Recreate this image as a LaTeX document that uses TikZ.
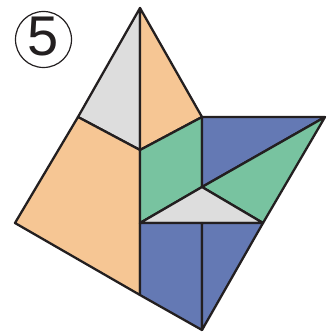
\documentclass[tikz,border=0pt]{standalone}
\usepackage{fontspec}
\setmainfont{Liberation Sans}
\definecolor{orng}{RGB}{246,198,148}
\definecolor{gry}{RGB}{221,221,221}
\definecolor{grn}{RGB}{120,195,160}
\definecolor{blu}{RGB}{100,121,180}
\definecolor{ink}{RGB}{35,31,32}
\begin{document}
\begin{tikzpicture}[x=1pt,y=-1pt,
  piece/.style={draw=ink,line width=2.3pt,line join=round}]
\useasboundingbox (0,0) rectangle (335,334);
\coordinate (A) at (140,8);
\coordinate (L) at (78,117);
\coordinate (C) at (140,150);
\coordinate (R) at (202,117);
\coordinate (FL) at (15,223);
\coordinate (OB) at (140,295);
\coordinate (GB) at (140,223);
\coordinate (M) at (202,187);
\coordinate (FR) at (325,117);
\coordinate (RL) at (263,223);
\coordinate (BM) at (202,223);
\coordinate (T) at (202,330);
\filldraw[piece,fill=gry] (A) -- (L) -- (C) -- cycle;
\filldraw[piece,fill=orng] (A) -- (R) -- (C) -- cycle;
\filldraw[piece,fill=orng] (L) -- (C) -- (OB) -- (FL) -- cycle;
\filldraw[piece,fill=grn] (C) -- (R) -- (M) -- (GB) -- cycle;
\filldraw[piece,fill=blu] (R) -- (FR) -- (M) -- cycle;
\filldraw[piece,fill=grn] (M) -- (FR) -- (RL) -- cycle;
\filldraw[piece,fill=gry] (GB) -- (M) -- (RL) -- cycle;
\filldraw[piece,fill=blu] (GB) -- (BM) -- (T) -- (OB) -- cycle;
\filldraw[piece,fill=blu] (BM) -- (RL) -- (T) -- cycle;
\node[draw=ink,circle,line width=1.2pt,minimum size=56pt,inner sep=0pt] (num) at (43.5,39.5) {};
\node[text=ink,font=\fontsize{56}{56}\selectfont,inner sep=0pt] (five) at (43.5,37) {5};
\end{tikzpicture}
\end{document}
